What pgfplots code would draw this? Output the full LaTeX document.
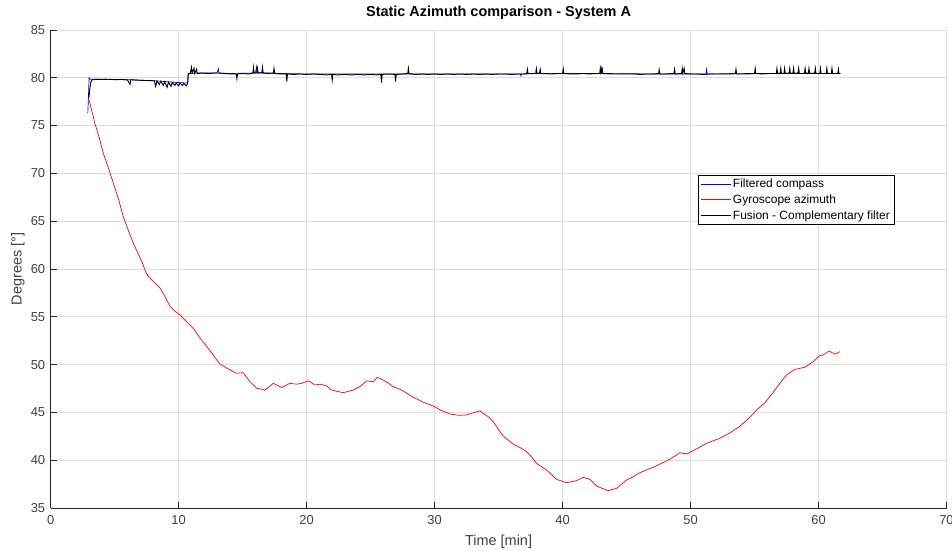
\documentclass[border=0pt]{standalone}
\usepackage{fontspec}
\setmainfont{Liberation Sans}
\usepackage{pgfplots}
\pgfplotsset{compat=1.18}

\definecolor{axgray}{gray}{0.15}
\definecolor{lblgray}{gray}{0.25}
\definecolor{gridgray}{gray}{0.87}

\begin{document}
\begin{tikzpicture}
\begin{axis}[
  scale only axis,
  width=895.8bp, height=478bp,
  xmin=0, xmax=70, ymin=35, ymax=85,
  xtick={0,10,...,70}, ytick={35,40,...,85},
  axis lines*=left,
  axis line style={draw=axgray, line width=0.6bp, -},
  tick style={draw=axgray, line width=0.6bp},
  tick align=inside, major tick length=6bp,
  grid=major,
  grid style={draw=gridgray, line width=0.6bp},
  /pgf/number format/assume math mode=true,
  tick label style={font=\fontsize{13}{15}\selectfont, text=lblgray},
  xticklabel style={yshift=-4bp},
  yticklabel style={xshift=-2bp},
  title={Static Azimuth comparison - System A},
  title style={at={(axis description cs:0.5,1.0377)}, anchor=center, yshift=-7bp,
               font=\bfseries\fontsize{14.5}{16}\selectfont},
  xlabel={Time [min]},
  xlabel style={at={(axis description cs:0.5,-0.0711)}, anchor=center,
                font=\fontsize{14.5}{16}\selectfont, text=lblgray},
  ylabel={Degrees [°]},
  ylabel style={at={(axis description cs:-0.0365,0.5)}, anchor=center,
                font=\fontsize{14.5}{16}\selectfont, text=lblgray},
  legend style={at={(axis description cs:0.7226,0.6967)}, anchor=north west,
                draw=black, fill=white,
                font=\fontsize{12}{14}\selectfont,
                inner xsep=2bp, inner ysep=2bp, row sep=1.5bp},
  legend cell align=left,
]

% Filtered compass heading
\addplot[blue, line width=0.7bp,
  legend image code/.code={\draw[blue, line width=0.8bp] (0bp,0bp) -- (30bp,0bp);}]
coordinates {
(2.90,76.3) (2.95,78.0) (3.00,80.0) (3.10,79.85) (4.0,79.85) (5.0,79.82)
(6.0,79.80) (7.0,79.75) (8.0,79.70) (9.0,79.60) (10.0,79.50) (10.70,79.45)
(10.75,80.45) (11.5,80.50) (13.0,80.50) (13.1,80.95) (13.15,80.50) (14.0,80.45)
(16.0,80.50) (16.1,81.2) (16.15,80.50) (17.0,80.50) (18.0,80.45) (20.0,80.40)
(25.0,80.40) (30.0,80.40) (36.7,80.40) (36.75,80.2) (36.8,80.40) (40.0,80.45)
(43.0,80.45) (43.05,81.0) (43.1,80.45) (47.0,80.40) (51.2,80.40) (51.25,80.9)
(51.3,80.40) (55.0,80.45) (58.0,80.45) (61.7,80.45)
};
\addlegendentry{Filtered compass}

% Integrated gyroscope azimuth
\addplot[red, line width=0.7bp,
  legend image code/.code={\draw[red, line width=0.8bp] (0bp,0bp) -- (30bp,0bp);}]
coordinates {
(2.95,77.9) (3.20,76.6) (3.46,75.2) (3.80,73.7) (4.11,72.1) (4.50,70.6)
(4.89,69.0) (5.30,67.3) (5.67,65.5) (6.05,64.1) (6.45,62.7) (6.80,61.7)
(7.11,60.8) (7.40,59.8) (7.63,59.2) (8.10,58.6) (8.54,58.0) (8.90,57.2)
(9.32,56.1) (9.70,55.6) (10.10,55.2) (10.60,54.5) (11.14,53.8) (11.60,52.9)
(12.19,51.9) (12.70,51.0) (13.20,50.1) (13.80,49.6) (14.50,49.1) (15.05,49.15)
(15.57,48.21) (16.09,47.52) (16.40,47.45) (16.74,47.34) (17.10,47.70) (17.39,48.04)
(18.05,47.60) (18.70,48.04) (19.20,47.95) (19.61,48.04) (20.13,48.30) (20.65,47.87)
(21.10,47.95) (21.56,47.76) (21.95,47.34) (22.40,47.20) (22.86,47.06) (23.64,47.34)
(24.16,47.69) (24.69,48.30) (25.20,48.20) (25.52,48.67) (25.98,48.39) (26.40,48.05)
(26.77,47.69) (27.42,47.34) (27.90,46.95) (28.33,46.58) (28.70,46.35) (29.11,46.06)
(29.89,45.67) (30.55,45.18) (31.20,44.83) (31.90,44.70) (32.50,44.73) (33.00,44.95)
(33.54,45.15) (34.19,44.55) (34.58,44.03) (35.10,43.00) (35.36,42.53) (36.14,41.69)
(36.70,41.30) (37.19,40.89) (37.60,40.30) (37.97,39.67) (38.75,38.97) (39.10,38.55)
(39.53,38.00) (40.31,37.65) (41.09,37.86) (41.61,38.21) (42.13,38.00) (42.66,37.30)
(43.10,37.05) (43.56,36.81) (44.22,37.06) (45.00,37.93) (45.50,38.25) (46.04,38.69)
(47.08,39.26) (47.70,39.65) (48.38,40.09) (49.16,40.78) (49.69,40.65) (50.50,41.20)
(51.25,41.77) (52.29,42.29) (53.00,42.80) (53.80,43.50) (54.50,44.30) (55.20,45.30)
(55.80,46.00) (56.40,47.00) (56.97,48.04) (57.50,48.91) (58.15,49.50) (58.93,49.72)
(59.58,50.30) (60.05,50.90) (60.36,51.00) (60.83,51.42) (61.28,51.10) (61.66,51.35)
};
\addlegendentry{Gyroscope azimuth}

% Complementary-filter fusion of compass and gyroscope
\addplot[black, line width=0.9bp,
  legend image code/.code={\draw[black, line width=0.8bp] (0bp,0bp) -- (30bp,0bp);}]
coordinates {
(3.00,78.0) (3.05,78.8) (3.15,79.6) (3.30,79.85) (4.0,79.82) (4.5,79.85)
(5.0,79.80) (5.5,79.83) (6.0,79.78) (6.2,79.3) (6.25,79.80) (6.8,79.75)
(7.3,79.72) (7.8,79.70) (8.1,79.68) (8.2,79.1) (8.3,79.65) (8.5,79.3)
(8.6,79.65) (8.8,79.2) (8.9,79.60) (9.1,79.0) (9.2,79.55) (9.4,79.1)
(9.5,79.50) (9.7,79.2) (9.8,79.45) (10.0,79.15) (10.1,79.45) (10.3,79.2)
(10.4,79.40) (10.6,79.15) (10.7,79.40) (10.75,80.40) (10.9,80.45) (11.0,81.1)
(11.05,80.50) (11.2,81.0) (11.25,80.45) (11.4,80.9) (11.45,80.45) (11.8,80.50)
(12.3,80.45) (12.8,80.50) (13.1,80.50) (13.6,80.45) (14.1,80.40) (14.5,80.40)
(14.55,79.9) (14.6,80.40) (15.0,80.45) (15.5,80.40) (15.8,80.50) (15.85,81.1)
(15.9,80.50) (16.1,80.50) (16.15,81.2) (16.2,80.50) (16.5,80.55) (16.55,81.1)
(16.6,80.50) (17.0,80.45) (17.4,80.50) (17.45,81.0) (17.5,80.45) (18.0,80.40)
(18.4,80.40) (18.45,79.6) (18.5,80.40) (19.0,80.35) (19.5,80.40) (20.0,80.35)
(20.5,80.40) (21.0,80.35) (21.5,80.30) (21.95,80.35) (22.0,79.75) (22.05,80.35)
(22.5,80.30) (23.0,80.35) (23.5,80.30) (24.0,80.35) (24.5,80.30) (25.0,80.35)
(25.5,80.30) (25.8,80.35) (25.85,79.5) (25.9,80.35) (26.3,80.40) (26.9,80.35)
(26.95,79.6) (27.0,80.35) (27.5,80.40) (27.9,80.45) (27.95,81.0) (28.0,80.45)
(28.5,80.35) (29.0,80.40) (29.5,80.35) (30.0,80.40) (30.5,80.35) (31.0,80.40)
(31.5,80.35) (32.0,80.40) (32.5,80.35) (33.0,80.40) (33.5,80.35) (34.0,80.40)
(34.5,80.35) (35.0,80.40) (35.5,80.40) (36.0,80.35) (36.5,80.40) (37.0,80.40)
(37.2,80.45) (37.25,80.9) (37.3,80.45) (37.9,80.45) (37.95,80.95) (38.0,80.45)
(38.2,80.50) (38.25,80.9) (38.3,80.45) (38.7,80.45) (39.2,80.40) (39.7,80.45)
(40.0,80.45) (40.05,80.95) (40.1,80.45) (40.6,80.40) (41.1,80.40) (41.6,80.45)
(42.1,80.40) (42.6,80.45) (42.9,80.45) (42.95,81.0) (43.0,80.50) (43.1,80.95)
(43.15,80.45) (43.6,80.40) (44.1,80.40) (44.6,80.40) (45.1,80.40) (45.6,80.40)
(46.1,80.35) (46.6,80.40) (47.1,80.40) (47.5,80.45) (47.55,80.85) (47.6,80.40)
(48.1,80.40) (48.7,80.45) (48.75,80.9) (48.8,80.40) (49.3,80.45) (49.35,81.0)
(49.4,80.50) (49.5,81.0) (49.55,80.45) (50.0,80.40) (50.5,80.40) (51.0,80.35)
(51.5,80.40) (52.0,80.40) (52.5,80.40) (53.0,80.40) (53.5,80.45) (53.55,80.9)
(53.6,80.40) (54.0,80.40) (54.5,80.40) (55.0,80.45) (55.05,81.0) (55.1,80.45)
(55.6,80.40) (56.0,80.45) (56.5,80.45) (56.7,80.45) (56.75,81.0) (56.8,80.45)
(57.0,80.50) (57.05,81.0) (57.1,80.45) (57.3,80.45) (57.35,81.0) (57.4,80.45)
(57.7,80.50) (57.75,81.0) (57.8,80.50) (58.0,80.45) (58.05,81.0) (58.1,80.45)
(58.4,80.50) (58.45,81.0) (58.5,80.45) (58.9,80.45) (58.95,81.0) (59.0,80.50)
(59.2,80.45) (59.25,81.0) (59.3,80.45) (59.7,80.50) (59.75,81.0) (59.8,80.45)
(60.1,80.45) (60.15,81.0) (60.2,80.45) (60.6,80.45) (60.65,81.0) (60.7,80.45)
(61.0,80.45) (61.05,81.0) (61.1,80.45) (61.5,80.45) (61.55,80.9) (61.6,80.45)
(61.7,80.45)
};
\addlegendentry{Fusion - Complementary filter}

\end{axis}
\pgfresetboundingbox
\path[use as bounding box] (-50.7bp,-43bp) rectangle (901.3bp,508bp);
\end{tikzpicture}
\end{document}
